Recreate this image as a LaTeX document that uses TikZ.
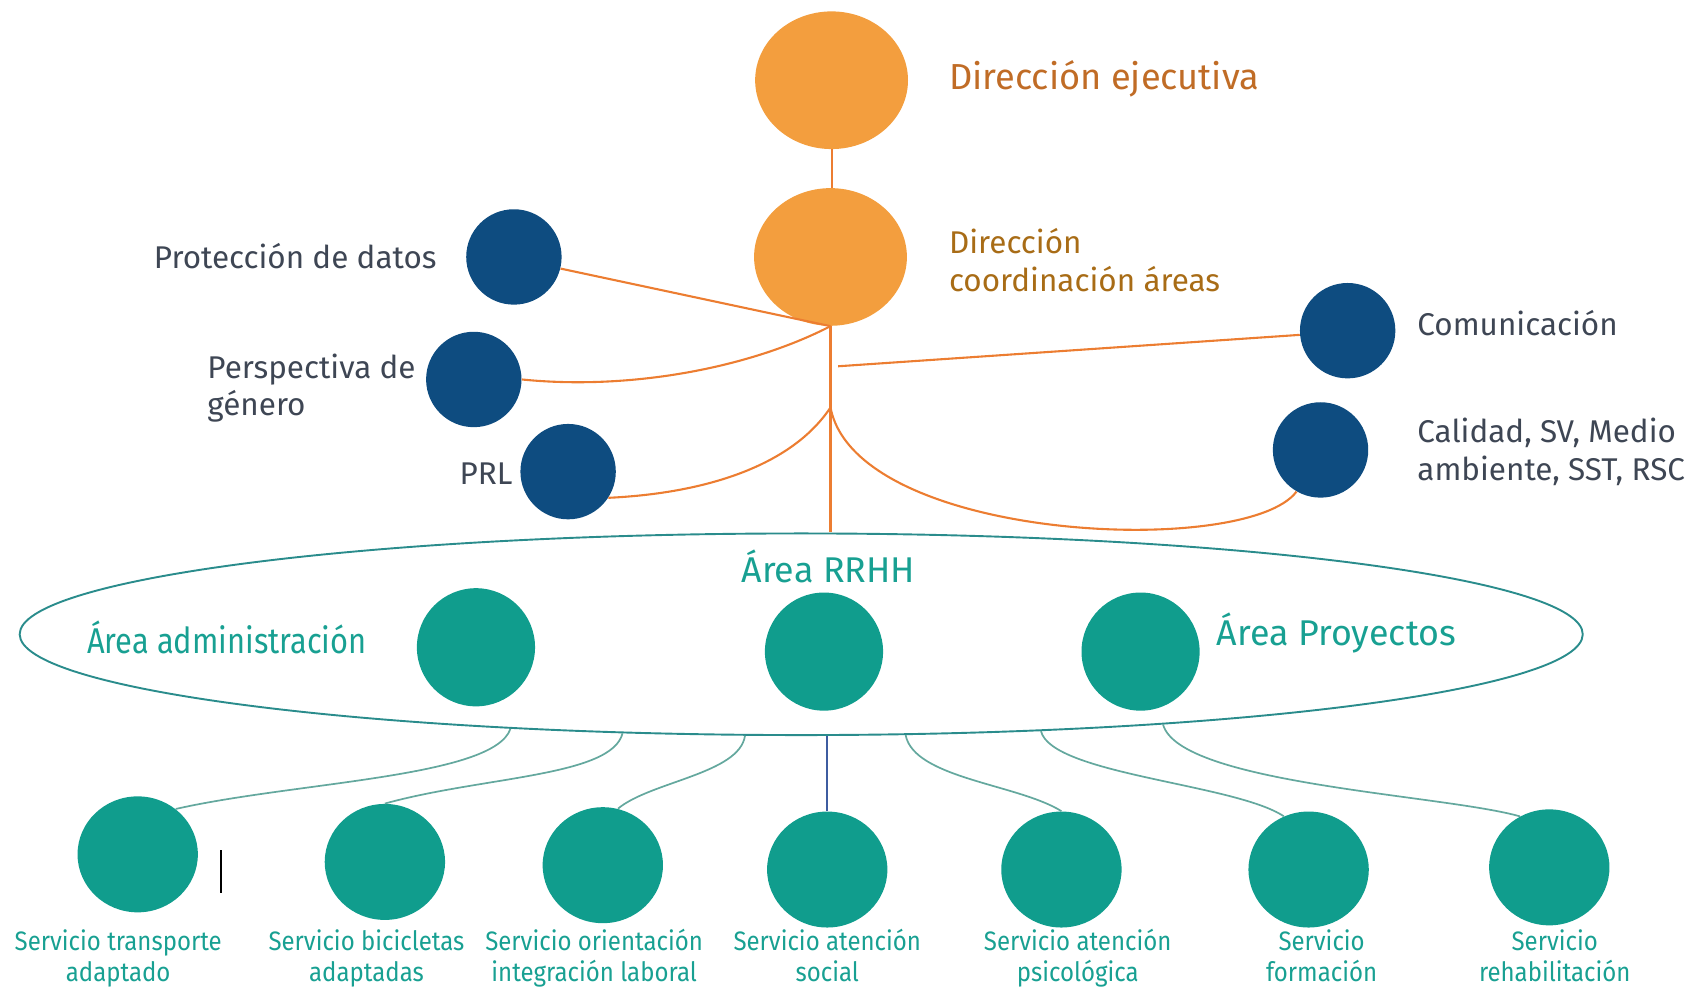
\documentclass[tikz,border=0pt]{standalone}
\usepackage{fontspec}
\setmainfont{Fira Sans}
\newfontfamily\condensada{Fira Sans}[FakeStretch=0.9]
\newfontfamily\angosta{Fira Sans}[FakeStretch=0.86]
\usetikzlibrary{shapes.geometric,positioning}

\definecolor{naranja}{RGB}{243,158,62}
\definecolor{naranjalinea}{RGB}{236,125,49}
\definecolor{naranjatexto}{RGB}{192,108,38}
\definecolor{ocretexto}{RGB}{168,108,22}
\definecolor{azul}{RGB}{14,76,128}
\definecolor{gristexto}{RGB}{62,70,84}
\definecolor{verde}{RGB}{16,157,141}
\definecolor{verdetexto}{RGB}{24,160,146}
\definecolor{verdeborde}{RGB}{42,140,140}
\definecolor{verdelinea}{RGB}{100,168,158}
\definecolor{azullinea}{RGB}{62,92,160}

\tikzset{
  dirbubble/.style={ellipse, fill=naranja, minimum width=2.82cm, minimum height=2.54cm, inner sep=0pt},
  apoyobubble/.style={circle, fill=azul, minimum size=1.76cm, inner sep=0pt},
  areabubble/.style={circle, fill=verde, minimum size=2.18cm, inner sep=0pt},
  servbubble/.style={ellipse, fill=verde, minimum width=2.22cm, minimum height=2.14cm, inner sep=0pt},
  dirline/.style={draw=naranjalinea, line width=1.1pt},
  servline/.style={draw=verdelinea, line width=0.9pt},
  apoyolabel/.style={text=gristexto, inner sep=0pt, align=left, font=\fontsize{16.5}{19.6}\selectfont},
  arealabel/.style={text=verdetexto, inner sep=0pt, font=\fontsize{18.8}{22}\selectfont},
  servlabel/.style={text=verdetexto, inner sep=0pt, align=center, font=\condensada\fontsize{14}{16.5}\selectfont},
}

\begin{document}
\begin{tikzpicture}[x=0.02cm, y=0.02cm]
\useasboundingbox (0,0) rectangle (1568,-913);

\node[dirbubble] (ejec) at (767,-74) {};
\node[dirbubble] (coord) at (766,-237) {};
\node[apoyobubble] (prot) at (474,-237) {};
\node[apoyobubble] (persp) at (437,-350) {};
\node[apoyobubble] (prl) at (524,-435) {};
\node[apoyobubble] (comu) at (1243,-305) {};
\node[apoyobubble] (cal) at (1218,-415) {};

\node[text=naranjatexto, inner sep=0pt, anchor=west, font=\fontsize{19}{23}\selectfont] (ejectxt) at (875,-73) {Dirección ejecutiva};
\node[text=ocretexto, inner sep=0pt, anchor=west, align=left, font=\fontsize{16.5}{20}\selectfont] (coordtxt) at (875,-240) {Dirección\\coordinación áreas};
\node[apoyolabel, anchor=east] (prottxt) at (403,-236) {Protección de datos};
\node[apoyolabel, anchor=west] (persptxt) at (191,-358) {Perspectiva de\\género};
\node[apoyolabel, anchor=east] (prltxt) at (473,-437) {PRL};
\node[apoyolabel, anchor=west] (comutxt) at (1307,-298) {Comunicación};
\node[apoyolabel, anchor=west, font=\fontsize{16.5}{20}\selectfont] (caltxt) at (1307,-417) {Calidad, SV, Medio\\ambiente, SST, RSC};

\node[ellipse, draw=verdeborde, line width=1pt, minimum width=28.84cm, minimum height=3.72cm, inner sep=0pt] (rrhh) at (739,-585) {};
\node[arealabel] (rrhhtxt) at (764,-522) {Área RRHH};
\node[areabubble] (admin) at (439,-597) {};
\node[areabubble] (centro) at (760,-601) {};
\node[areabubble] (proy) at (1052,-601) {};
\node[arealabel, anchor=west, font=\angosta\fontsize{18.8}{22}\selectfont] (admintxt) at (80,-588) {Área administración};
\node[arealabel, anchor=west] (proytxt) at (1122,-584) {Área Proyectos};

\node[servbubble] (s1) at (127,-788) {};
\node[servbubble] (s2) at (355,-795) {};
\node[servbubble] (s3) at (556,-798) {};
\node[servbubble] (s4) at (763,-802) {};
\node[servbubble] (s5) at (979,-802) {};
\node[servbubble] (s6) at (1207,-802) {};
\node[servbubble] (s7) at (1429,-800) {};
\node[servlabel] (s1txt) at (109,-885) {\strut Servicio transporte\\\strut adaptado};
\node[servlabel] (s2txt) at (338,-885) {\strut Servicio bicicletas\\\strut adaptadas};
\node[servlabel] (s3txt) at (548,-885) {\strut Servicio orientación\\\strut integración laboral};
\node[servlabel] (s4txt) at (763,-885) {\strut Servicio atención\\\strut social};
\node[servlabel] (s5txt) at (994,-885) {\strut Servicio atención\\\strut psicológica};
\node[servlabel] (s6txt) at (1219,-885) {\strut Servicio\\\strut formación};
\node[servlabel] (s7txt) at (1434,-885) {\strut Servicio\\\strut rehabilitación};

\coordinate (hub) at (coord.south);
\coordinate (split) at ([yshift=-1.5cm]hub);
\coordinate (comstart) at ([xshift=0.14cm, yshift=-0.74cm]hub);
\draw[dirline] (ejec.south) -- (ejec.south |- coord.north);
\draw[dirline] (hub) -- (hub |- rrhh.north);
\draw[dirline] (prot.-14) -- (hub);
\draw[dirline] (persp.east) .. controls (580,-360) and (690,-340) .. (hub);
\draw[dirline] (prl.-33) .. controls (650,-455) and (730,-430) .. (split);
\draw[dirline] (split) .. controls (790,-500) and (1150,-515) .. (cal.240);
\draw[dirline] (comstart) -- (comu.185);

\draw[servline] (rrhh.198) .. controls +(-15,-45) and +(110,25) .. (s1.50);
\draw[servline] (rrhh.209) .. controls +(-10,-40) and +(90,25) .. (s2.north);
\draw[servline] (rrhh.241) .. controls +(-5,-35) and +(30,25) .. (s3.75);
\draw[azullinea, line width=0.8pt] (s4.north) -- (s4.north |- rrhh.south);
\draw[servline] (rrhh.316) .. controls +(8,-40) and +(-40,25) .. (s5.north);
\draw[servline] (rrhh.338) .. controls +(10,-40) and +(-45,30) .. (s6.115);
\draw[servline] (rrhh.346) .. controls +(15,-55) and +(-70,20) .. (s7.120);

\coordinate (marktop) at (204,-784);
\coordinate (markbot) at (204,-824);
\draw[black, line width=1pt] (marktop) -- (markbot);
\end{tikzpicture}
\end{document}
